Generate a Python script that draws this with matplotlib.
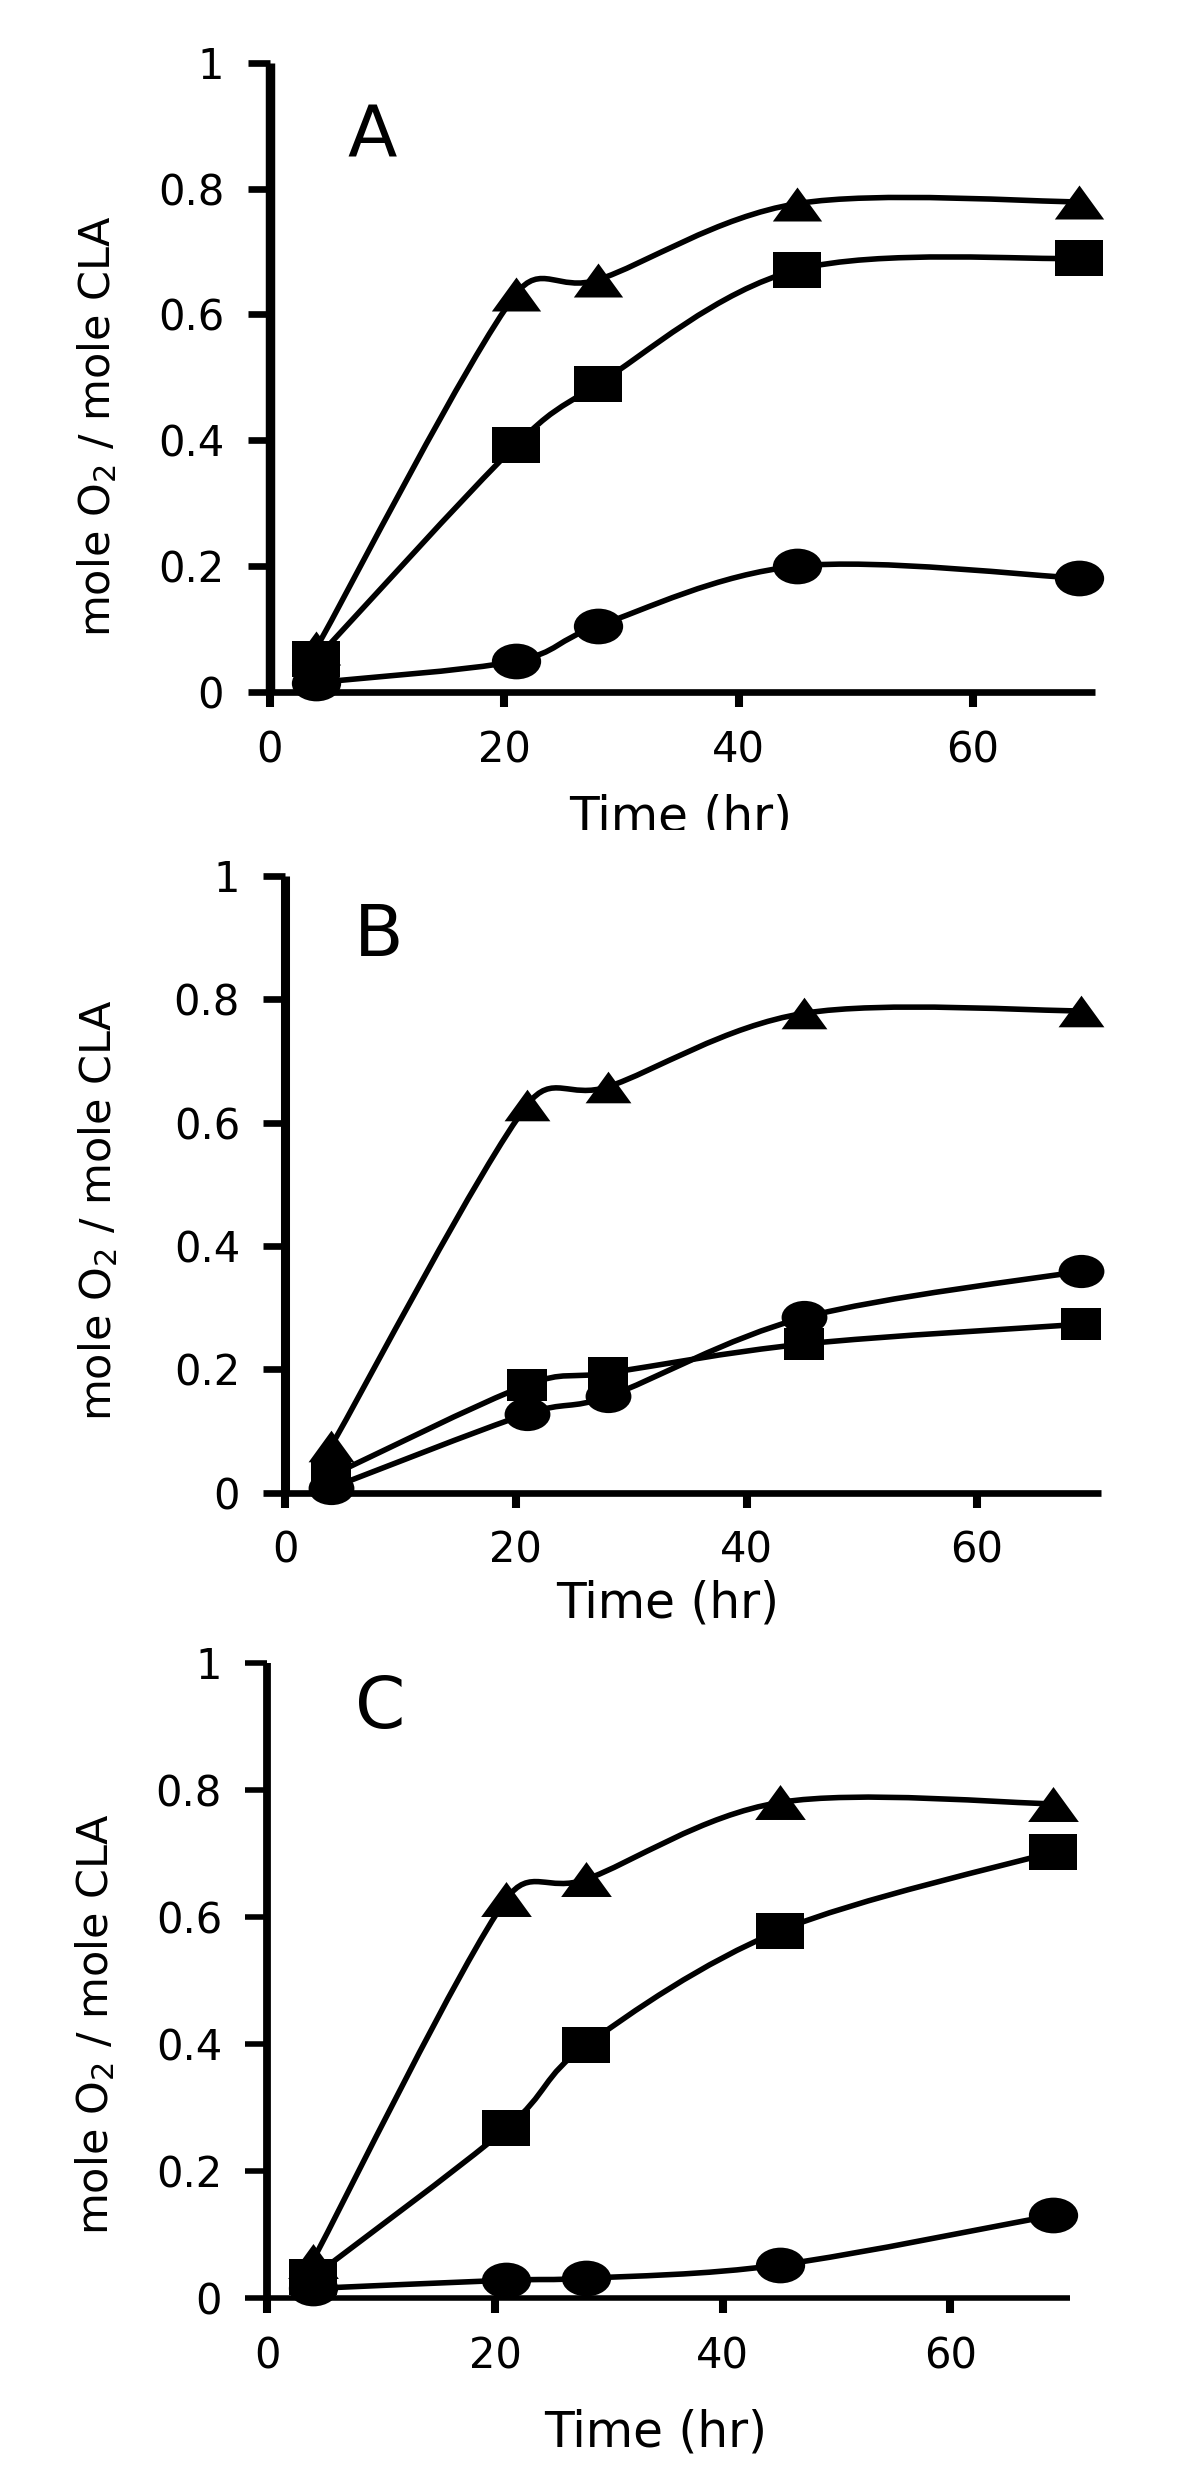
import numpy as np
import matplotlib
matplotlib.use("Agg")
import matplotlib.pyplot as plt
from matplotlib.path import Path
from matplotlib.patches import PathPatch
from matplotlib.transforms import Bbox, TransformedBbox

# ---------------- data ----------------
time_hr = [4, 21, 28, 45, 69]

a_triangle = [0.07, 0.632, 0.655, 0.776, 0.779]
a_square = [0.053, 0.392, 0.489, 0.671, 0.689]
a_circle = [0.015, 0.049, 0.105, 0.200, 0.181]

b_triangle = [0.076, 0.629, 0.658, 0.777, 0.781]
b_square = [0.028, 0.175, 0.194, 0.241, 0.273]
b_circle = [0.008, 0.128, 0.156, 0.284, 0.359]

c_triangle = [0.059, 0.628, 0.659, 0.780, 0.778]
c_square = [0.033, 0.267, 0.398, 0.578, 0.702]
c_circle = [0.015, 0.028, 0.031, 0.052, 0.130]

panel_letters = ["A", "B", "C"]
x_ticks = [0, 20, 40, 60]
y_ticks = [0, 0.2, 0.4, 0.6, 0.8, 1.0]
y_tick_labels = ["0", "0.2", "0.4", "0.6", "0.8", "1"]
x_label = "Time (hr)"
y_label = "mole O$_2$ / mole CLA"

# ---------------- style ----------------
plt.rcParams["font.family"] = ["DejaVu Sans"]
plt.rcParams["mathtext.fontset"] = "dejavusans"

W, H, DPI = 1200, 2486, 100
fig = plt.figure(figsize=(W / DPI, H / DPI), dpi=DPI)

# axes layout in pixels
panels = [
    dict(letter="A", tri=a_triangle, sq=a_square, circ=a_circle,
         left=269.5, right=1095, top=62.7, bottom=692, xmax=70.4,
         ms=dict(tri=35.5, sq=35.0, circ=35.5),
         xlab=(0.498, -0.2209), ylab=(-0.1936, 0.4227), let=(0.1244, 0.8506),
         spw=(6.8, 4.8), clip_xlabel=True),
    dict(letter="B", tri=b_triangle, sq=b_square, circ=b_circle,
         left=285.3, right=1100.5, top=875.7, bottom=1492.7, xmax=70.7,
         ms=dict(tri=33.0, sq=29.5, circ=33.0),
         xlab=(0.4695, -0.2015), ylab=(-0.2138, 0.458), let=(0.115, 0.87),
         spw=(6.5, 4.8), clip_xlabel=False),
    dict(letter="C", tri=c_triangle, sq=c_square, circ=c_circle,
         left=267.3, right=1070, top=1662.7, bottom=2298, xmax=70.5,
         ms=dict(tri=36.5, sq=35.0, circ=35.5),
         xlab=(0.4842, -0.2345), ylab=(-0.1985, 0.4305), let=(0.1404, 0.8972),
         spw=(5.6, 4.0), clip_xlabel=False),
]


def ellipse_marker(aspect):
    c = Path.unit_circle()
    return Path(c.vertices * np.array([aspect, 1.0]), c.codes)


def rect_marker(aspect):
    v = [(-aspect, -1), (aspect, -1), (aspect, 1), (-aspect, 1), (-aspect, -1)]
    return Path(v, [Path.MOVETO, Path.LINETO, Path.LINETO, Path.LINETO, Path.CLOSEPOLY])


def tri_marker(aspect):
    v = [(0, 1), (-aspect, -1), (aspect, -1), (0, 1)]
    return Path(v, [Path.MOVETO, Path.LINETO, Path.LINETO, Path.CLOSEPOLY])


markers = dict(circ=ellipse_marker(1.38), sq=rect_marker(1.32), tri=tri_marker(1.45))


def smooth_path(ax, xs, ys):
    """Excel-like smoothed line (cubic Bezier) through the data points."""
    pts = ax.transData.transform(np.column_stack([xs, ys]))
    n = len(pts)
    verts = [pts[0]]
    codes = [Path.MOVETO]
    for i in range(n - 1):
        p0 = pts[i - 1] if i > 0 else pts[i]
        p1 = pts[i]
        p2 = pts[i + 1]
        p3 = pts[i + 2] if i + 2 < n else pts[i + 1]
        d12 = np.hypot(*(p2 - p1))
        d02 = np.hypot(*(p2 - p0))
        d13 = np.hypot(*(p3 - p1))
        f1 = 1 / 6 if d02 == 0 else min(1 / 6, d12 / (2 * d02))
        f2 = 1 / 6 if d13 == 0 else min(1 / 6, d12 / (2 * d13))
        c1 = p1 + (p2 - p0) * f1
        c2 = p2 - (p3 - p1) * f2
        verts += [c1, c2, p2]
        codes += [Path.CURVE4] * 3
    verts = ax.transData.inverted().transform(np.array(verts))
    return Path(verts, codes)


for p in panels:
    left = p["left"] / W
    width = (p["right"] - p["left"]) / W
    bottom = (H - p["bottom"]) / H
    height = (p["bottom"] - p["top"]) / H
    ax = fig.add_axes([left, bottom, width, height])
    ax.set_xlim(0, p["xmax"])
    ax.set_ylim(0, 1)
    ax.spines["top"].set_visible(False)
    ax.spines["right"].set_visible(False)
    ax.spines["left"].set_linewidth(p["spw"][0])
    ax.spines["bottom"].set_linewidth(p["spw"][1])
    ax.spines["left"].set_capstyle("butt")
    ax.spines["bottom"].set_capstyle("butt")
    ax.set_xticks(x_ticks)
    ax.set_xticklabels([str(t) for t in x_ticks])
    ax.set_yticks(y_ticks)
    ax.set_yticklabels(y_tick_labels)
    ax.tick_params(axis="y", direction="out", length=15.6, width=p["spw"][1],
                   pad=17, labelsize=30)
    ax.tick_params(axis="x", direction="out", length=10.8, width=5.8,
                   pad=16, labelsize=30)

    for key in ["circ", "tri", "sq"]:
        ys = p[key]
        path = smooth_path(ax, time_hr, ys)
        patch = PathPatch(path, fill=False, edgecolor="black", linewidth=4.0,
                          transform=ax.transData, clip_on=False, zorder=3,
                          capstyle="round", joinstyle="round")
        ax.add_patch(patch)
        ax.plot(time_hr, ys, linestyle="none", marker=markers[key],
                markersize=p["ms"][key], markerfacecolor="black",
                markeredgewidth=0, clip_on=False, zorder=4)

    xl = ax.set_xlabel(x_label, fontsize=35, va="baseline", ha="center")
    ax.xaxis.set_label_coords(*p["xlab"])
    ax.set_ylabel(y_label, fontsize=31, va="baseline", ha="center")
    ax.yaxis.set_label_coords(*p["ylab"])
    ax.text(p["let"][0], p["let"][1], p["letter"], transform=ax.transAxes,
            fontsize=52, ha="center", va="baseline")

    if p["clip_xlabel"]:
        clip_bottom_px = 830
        bb = Bbox.from_extents(0, (H - clip_bottom_px) / H, 1, 1)
        xl.set_clip_box(TransformedBbox(bb, fig.transFigure))
        xl.set_clip_on(True)

fig.savefig("out.png", dpi=DPI)
